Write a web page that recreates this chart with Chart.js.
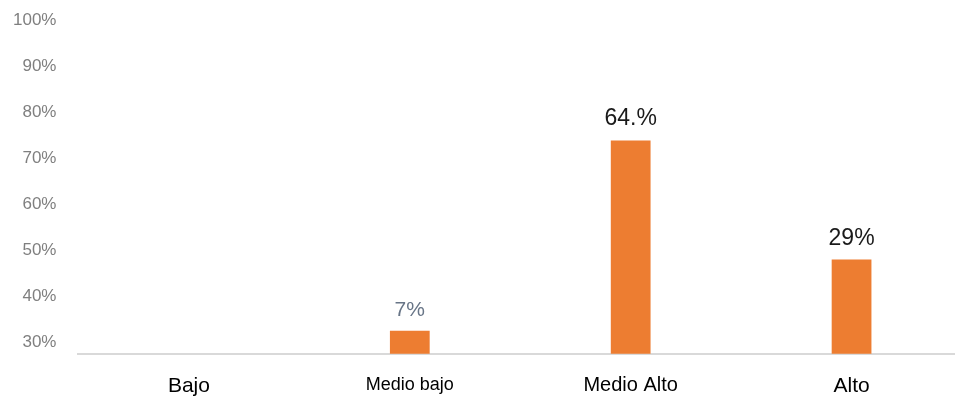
<!DOCTYPE html>
<html>
<head>
<meta charset="utf-8">
<script src="https://cdn.jsdelivr.net/npm/chart.js@4.4.1/dist/chart.umd.min.js"></script>
<style>
    html, body { margin: 0; padding: 0; background: #fff; overflow: hidden; }
    #wrap { width: 962px; height: 398px; }
</style>
</head>
<body>
<div id="wrap"><canvas id="chart"></canvas></div>
<script>
// --- datos ---
const categories = ['Bajo', 'Medio bajo', 'Medio Alto', 'Alto'];
const values = [null, 32.4, 73.8, 47.9];          // altura de barra en la escala del eje
const valueLabels = ['', '7%', '64.%', '29%'];      // etiquetas tal como aparecen
const yTicks = [30, 40, 50, 60, 70, 80, 90, 100];
const labelColors = ['#000', '#687587', '#1a1a1a', '#1a1a1a'];
const labelSizes = [21, 21, 23, 23];
const tickSizes = [21, 18, 20, 21];

// etiquetas encima de cada barra
const barLabels = {
    id: 'barLabels',
    afterDatasetsDraw(chart) {
        const ctx = chart.ctx;
        const meta = chart.getDatasetMeta(0);
        meta.data.forEach((bar, i) => {
            if (!valueLabels[i] || values[i] == null) return;
            ctx.save();
            ctx.font = labelSizes[i] + 'px "Liberation Sans", Arial, sans-serif';
            ctx.fillStyle = labelColors[i];
            ctx.textAlign = 'center';
            ctx.textBaseline = 'alphabetic';
            ctx.fillText(valueLabels[i], bar.x, bar.y - 15);
            ctx.restore();
        });
    }
};

new Chart(document.getElementById('chart'), {
    type: 'bar',
    data: {
        labels: categories,
        datasets: [{ data: values, backgroundColor: '#ed7d31', barPercentage: 0.6, categoryPercentage: 0.3 }]
    },
    options: {
        responsive: true,
        maintainAspectRatio: false,
        animation: false,
        layout: { padding: { top: 0, left: -9, right: 0, bottom: -21 } },
        plugins: { legend: { display: false }, tooltip: { enabled: false } },
        scales: {
            x: {
                grid: { display: false, drawTicks: false },
                border: { display: true, color: '#d9d9d9', width: 2 },
                ticks: {
                    color: '#000',
                    padding: 20,
                    maxRotation: 0,
                    font: ctx => ({ family: '"Liberation Sans", Arial, sans-serif', size: tickSizes[ctx.index] || 20 })
                }
            },
            y: {
                min: 27.4,
                max: 100,
                grid: { display: false, drawTicks: false },
                border: { display: false },
                afterBuildTicks: scale => { scale.ticks = yTicks.map(v => ({ value: v })); },
                afterFit: scale => { scale.paddingTop = 20; scale.paddingBottom = 10; },
                ticks: {
                    padding: 22,
                    color: '#7f7f7f',
                    font: { family: '"Liberation Sans", Arial, sans-serif', size: 17 },
                    callback: v => v + '%'
                }
            }
        }
    },
    plugins: [barLabels]
});
</script>
</body>
</html>
